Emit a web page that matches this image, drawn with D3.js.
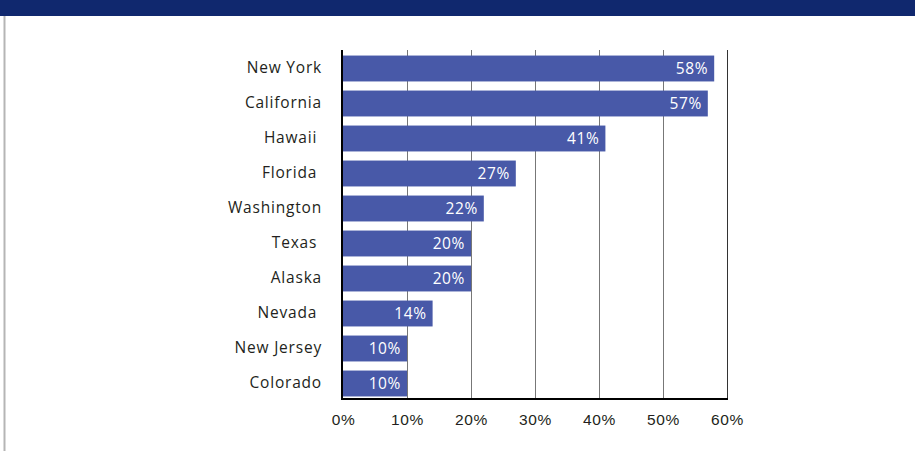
<!DOCTYPE html>
<html>
<head>
<meta charset="utf-8">
<script src="https://cdn.jsdelivr.net/npm/d3@7"></script>
<style>
  body { margin: 0; background: #fff; }
  svg { display: block; font-family: 'Open Sans', sans-serif; }
  .cat { font-size: 15.5px; letter-spacing: 0.8px; fill: #231f20; white-space: pre; }
  .val { font-size: 15.5px; letter-spacing: 0.6px; fill: #fff; }
  .tick text { font-size: 15.5px; letter-spacing: 0.6px; fill: #231f20; }
</style>
</head>
<body>
<svg id="chart" width="915" height="451"></svg>
<script>
// data
var states = ['New York', 'California', 'Hawaii ', 'Florida ', 'Washington', 'Texas ', 'Alaska', 'Nevada ', 'New Jersey', 'Colorado'];
var shares = [58, 57, 41, 27, 22, 20, 20, 14, 10, 10];
var ticks = [0, 10, 20, 30, 40, 50, 60];

var data = states.map((s, i) => ({ name: s, value: shares[i] }));

var svg = d3.select('#chart');

// header band and left rule
svg.append('rect')
  .attr('x', 0).attr('y', 0)
  .attr('width', 915).attr('height', 16)
  .attr('fill', '#10286e');

svg.append('line')
  .attr('x1', 4.5).attr('x2', 4.5)
  .attr('y1', 16).attr('y2', 451)
  .attr('stroke', '#b5b5b5')
  .attr('stroke-width', 2);

var x = d3.scaleLinear()
  .domain([0, 60])
  .range([343, 727]);

var y = d3.scaleBand()
  .domain(states)
  .range([51, 401])
  .paddingInner(0.26)
  .paddingOuter(0.13);

var plotTop = 50, plotBottom = 399;

// gridlines
svg.selectAll('.grid')
  .data(ticks.slice(1))
  .enter()
  .append('line')
  .attr('class', 'grid')
  .attr('x1', d => Math.round(x(d)) + 0.5)
  .attr('x2', d => Math.round(x(d)) + 0.5)
  .attr('y1', plotTop)
  .attr('y2', plotBottom)
  .attr('stroke', d => d === 60 ? '#333' : '#777')
  .attr('stroke-width', 1);

// bars
svg.selectAll('.bar')
  .data(data)
  .enter()
  .append('rect')
  .attr('class', 'bar')
  .attr('x', x(0))
  .attr('y', d => y(d.name))
  .attr('width', d => x(d.value) - x(0))
  .attr('height', y.bandwidth())
  .attr('fill', '#4859a8');

// value labels inside bar ends
svg.selectAll('.val')
  .data(data)
  .enter()
  .append('text')
  .attr('class', 'val')
  .attr('x', d => x(d.value) - 6)
  .attr('y', d => y(d.name) + y.bandwidth() / 2)
  .attr('dy', '0.35em')
  .attr('text-anchor', 'end')
  .text(d => d.value + '%');

// category labels
svg.selectAll('.cat')
  .data(data)
  .enter()
  .append('text')
  .attr('class', 'cat')
  .attr('x', 322)
  .attr('y', d => y(d.name) + y.bandwidth() / 2)
  .attr('dy', '0.3em')
  .attr('text-anchor', 'end')
  .text(d => d.name);

// x axis
var xAxis = d3.axisBottom(x)
  .tickValues(ticks)
  .tickSize(0)
  .tickPadding(15)
  .tickFormat(d => d + '%');

var gx = svg.append('g')
  .attr('class', 'axis')
  .attr('transform', 'translate(0,' + plotBottom + ')')
  .call(xAxis);
gx.select('.domain').remove();

// axis lines
svg.append('line')
  .attr('x1', x(0) - 1).attr('x2', x(0) - 1)
  .attr('y1', plotTop).attr('y2', plotBottom + 1)
  .attr('stroke', '#000').attr('stroke-width', 2);

svg.append('line')
  .attr('x1', x(0) - 2).attr('x2', x(60) + 1)
  .attr('y1', plotBottom).attr('y2', plotBottom)
  .attr('stroke', '#000').attr('stroke-width', 2);
</script>
</body>
</html>
